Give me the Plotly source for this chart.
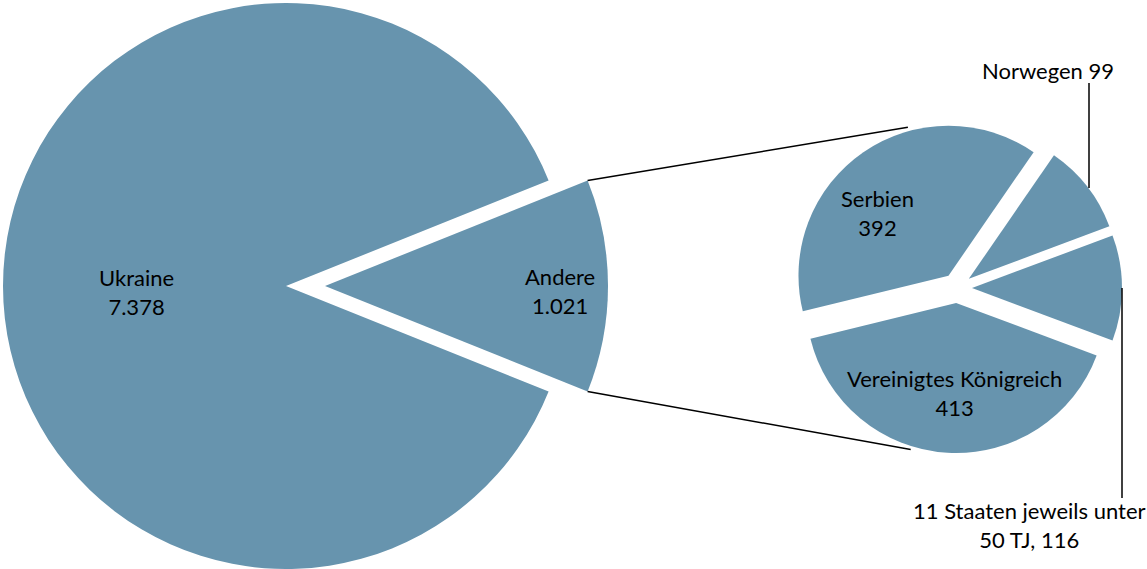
import math
import plotly.graph_objects as go

W, H = 1147, 569

# data
main_labels = ["Andere", "Ukraine"]
main_values = [1021, 7378]

detail_labels = ["Serbien", "Norwegen", "11 Staaten jeweils unter<br>50 TJ", "Vereinigtes Königreich"]
detail_values = [392, 99, 116, 413]

BLUE = "#6794ae"
CLEAR = "rgba(0,0,0,0)"
FONT = dict(family="Lato, Calibri, sans-serif", size=22, color="black")


def de(n):
    # German thousands separator
    return f"{n:,}".replace(",", ".")


def px_x(x):
    return x / W


def px_y(y):
    return 1 - y / H


def dom(cx, cy, half):
    return dict(x=[px_x(cx - half), px_x(cx + half)], y=[px_y(cy + half), px_y(cy - half)])


fig = go.Figure()

# left pie: Ukraine and the pulled-out "Andere" slice drawn as two traces
cx, cy, r = 286, 286, 283
shift = 39
andere_deg = main_values[0] / sum(main_values) * 360
rot_main = 90 - andere_deg / 2

for colors, x0 in [([CLEAR, BLUE], cx), ([BLUE, CLEAR], cx + shift)]:
    fig.add_trace(go.Pie(
        labels=main_labels, values=main_values, sort=False, direction="clockwise",
        rotation=rot_main, marker=dict(colors=colors, line=dict(width=0)),
        textinfo="none", hoverinfo="label+value", domain=dom(x0, cy, r), showlegend=False,
    ))

# right pie: breakdown of "Andere"
rcx, rcy, rr, pull = 957, 288, 150, 0.1
tot = sum(detail_values)
rot_detail = 90 - (detail_values[0] + detail_values[1] + detail_values[2] / 2) / tot * 360
fig.add_trace(go.Pie(
    labels=detail_labels, values=detail_values, sort=False, direction="clockwise",
    rotation=rot_detail, pull=[pull] * len(detail_values),
    marker=dict(colors=[BLUE] * len(detail_values), line=dict(width=0)),
    textinfo="none", hoverinfo="label+value", domain=dom(rcx, rcy, rr * (1 + pull)), showlegend=False,
))

# connector lines between the two pies
a = math.radians(andere_deg / 2)
lx = cx + shift + r * math.cos(a)
for sgn, ang in [(1, 107), (-1, -106)]:
    ly = cy - sgn * r * math.sin(a)
    rx = rcx + 168 * math.cos(math.radians(ang))
    ry = rcy - 168 * math.sin(math.radians(ang))
    fig.add_shape(type="line", xref="paper", yref="paper",
                  x0=px_x(lx), y0=px_y(ly), x1=px_x(rx), y1=px_y(ry),
                  line=dict(color="black", width=1.5))

# leader lines for the small slices
fig.add_shape(type="line", xref="paper", yref="paper",
              x0=px_x(1089), y0=px_y(83), x1=px_x(1089), y1=px_y(188),
              line=dict(color="black", width=1.5))
fig.add_shape(type="line", xref="paper", yref="paper",
              x0=px_x(1122), y0=px_y(288), x1=px_x(1122), y1=px_y(498),
              line=dict(color="black", width=1.5))

# labels
texts = [
    (f"{main_labels[1]}<br>{de(main_values[1])}", 136, 292),
    (f"{main_labels[0]}<br>{de(main_values[0])}", 560, 291),
    (f"{detail_labels[0]}<br>{de(detail_values[0])}", 877, 213),
    (f"{detail_labels[3]}<br>{de(detail_values[3])}", 954, 393),
    (f"{detail_labels[1]} {de(detail_values[1])}", 1048, 70),
    (f"{detail_labels[2]}, {de(detail_values[2])}", 1029, 525),
]
for txt, x, y in texts:
    fig.add_annotation(text=txt, x=px_x(x), y=px_y(y), xref="paper", yref="paper",
                       showarrow=False, xanchor="center", yanchor="middle", font=FONT)

fig.update_layout(
    width=W, height=H,
    margin=dict(l=0, r=0, t=0, b=0),
    paper_bgcolor="white", plot_bgcolor="white",
    font=FONT,
)

# drop the browser's default body margin so the figure fills the window
fig.write_html("out.html", config={"displayModeBar": False},
               post_script="document.body.style.margin='0';")
